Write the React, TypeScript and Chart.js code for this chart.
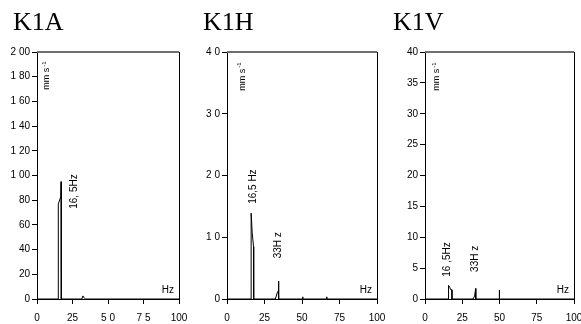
import React, { useEffect, useRef } from 'react';
import { Chart, registerables } from 'chart.js';

Chart.register(...registerables);

// ---------- data ----------
const titles = ['K1A', 'K1H', 'K1V'];

const xTickLabels1 = ['0', '25', '5 0', '7 5', '100'];
const xTickLabels2 = ['0', '25', '50', '75', '100'];
const xTickLabels3 = ['0', '25', '50', '75', '100'];

const yTickLabels1 = ['0', '20', '40', '60', '80', '1 00', '1 20', '1 40', '1 60', '1 80', '2 00'];
const yTickLabels2 = ['0', '1 0', '2 0', '3 0', '4 0'];
const yTickLabels3 = ['0', '5', '10', '15', '20', '25', '30', '35', '40'];

// K1A spectrum (Hz, mm/s)
const k1aHz = [0, 14.9, 15, 16.8, 17, 17.1, 31.6, 32.3, 33.5, 34, 100];
const k1aV = [0, 0, 77, 83, 95, 0, 0, 2.5, 0.5, 0, 0];

// K1H spectrum
const k1hHz = [0, 16.0, 16.1, 16.8, 17.7, 17.8, 32.2, 33.5, 34.2, 34.4, 34.5, 50.3, 50.5, 50.7, 66.3, 66.5, 66.7, 100];
const k1hV = [0, 0, 13.9, 10.7, 8.5, 0, 0, 1.0, 1.3, 2.9, 0, 0, 0.35, 0, 0, 0.35, 0, 0];

// K1V spectrum
const k1vHz = [0, 15.7, 15.8, 16.6, 17.3, 18.0, 18.1, 32.3, 33.3, 34.0, 34.1, 49.8, 49.9, 50.0, 100];
const k1vV = [0, 0, 2.2, 1.9, 1.5, 1.5, 0, 0, 0.5, 1.7, 0, 0, 1.45, 0, 0];

// peak annotations (text, Hz, value)
const k1aNotes = [{ text: '16, 5Hz', x: 26, y: 87 }];
const k1hNotes = [
  { text: '16,5 Hz', x: 17.5, y: 18.2 },
  { text: '33H z', x: 34.1, y: 8.7 },
];
const k1vNotes = [
  { text: '16 ,5Hz', x: 14.8, y: 6.4 },
  { text: '33H z', x: 33.6, y: 6.5 },
];

// unit label anchor (Hz, value)
const k1aUnit = { x: 7, y: 181 };
const k1hUnit = { x: 10.2, y: 36 };
const k1vUnit = { x: 8, y: 36 };

const yMax = [200, 40, 40];
const yStep = [20, 10, 5];

const SANS = "'Liberation Sans', Arial, Helvetica, sans-serif";
const SERIF = "'Liberation Serif', 'Times New Roman', serif";

// ---------- layout ----------
const panelBoxes = [
  { left: 0, width: 190, axisW: 37, padRight: 11, titleX: 13 },
  { left: 190, width: 195, axisW: 37, padRight: 8, titleX: 13 },
  { left: 385, width: 196, axisW: 40, padRight: 7, titleX: 8 },
];

const decorPlugin = {
  id: 'decor',
  afterDraw(chart: any, _args: any, opts: any) {
    const { ctx, chartArea: a, scales } = chart;
    const xs = scales.x;
    const ys = scales.y;
    ctx.save();
    // panel title
    ctx.fillStyle = '#000';
    ctx.font = `26px ${SERIF}`;
    ctx.textAlign = 'left';
    ctx.textBaseline = 'alphabetic';
    ctx.fillText(opts.title, opts.titleX, 29.5);

    // frame: top and right
    ctx.strokeStyle = '#6e6e6e';
    ctx.lineWidth = 2;
    ctx.beginPath();
    ctx.moveTo(a.left, a.top);
    ctx.lineTo(a.right, a.top);
    ctx.stroke();
    ctx.strokeStyle = '#000';
    ctx.lineWidth = 1;
    ctx.beginPath();
    ctx.moveTo(Math.round(a.right) + 0.5, a.top);
    ctx.lineTo(Math.round(a.right) + 0.5, a.bottom);
    ctx.stroke();

    // peak notes (rotated)
    ctx.font = `10px ${SANS}`;
    ctx.textAlign = 'center';
    ctx.textBaseline = 'middle';
    for (const n of opts.notes || []) {
      const px = xs.getPixelForValue(n.x);
      const py = ys.getPixelForValue(n.y);
      ctx.save();
      ctx.translate(px, py);
      ctx.rotate(-Math.PI / 2);
      ctx.fillText(n.text, 0, 0);
      ctx.restore();
    }
    // unit label
    if (opts.unit) {
      const px = xs.getPixelForValue(opts.unit.x);
      const py = ys.getPixelForValue(opts.unit.y);
      ctx.save();
      ctx.translate(px, py);
      ctx.rotate(-Math.PI / 2);
      ctx.textAlign = 'left';
      ctx.font = `9px ${SANS}`;
      const main = 'mm s';
      const w1 = ctx.measureText(main).width;
      ctx.font = `6px ${SANS}`;
      const sup = '-1';
      const w2 = ctx.measureText(sup).width;
      const start = -(w1 + w2 + 1) / 2;
      ctx.font = `9px ${SANS}`;
      ctx.fillText(main, start, 0);
      ctx.font = `6px ${SANS}`;
      ctx.fillText(sup, start + w1 + 1, -3);
      ctx.restore();
    }
    // Hz label
    ctx.font = `10px ${SANS}`;
    ctx.textAlign = 'right';
    ctx.textBaseline = 'middle';
    ctx.fillText('Hz', a.right - 5, a.bottom - 9);
    ctx.restore();
  },
};

function buildConfig(i: number, hz: number[], v: number[], xl: string[], yl: string[], notes: any[], unit: any) {
  const box = panelBoxes[i];
  return {
    type: 'line' as const,
    data: {
      datasets: [
        {
          data: hz.map((x, k) => ({ x, y: v[k] })),
          borderColor: '#000',
          borderWidth: 1,
          pointRadius: 0,
          tension: 0,
          fill: false,
        },
      ],
    },
    options: {
      animation: false,
      responsive: false,
      devicePixelRatio: 1,
      layout: { padding: { left: 0, right: box.padRight, top: 52, bottom: 0 } },
      plugins: {
        legend: { display: false },
        tooltip: { enabled: false },
        title: { display: false },
        decor: { notes, unit, title: titles[i], titleX: box.titleX },
      },
      scales: {
        x: {
          type: 'linear',
          min: 0,
          max: 100,
          border: { display: true, color: '#000', width: 1 },
          grid: { drawOnChartArea: false, drawTicks: true, tickLength: 5, color: '#000' },
          ticks: {
            stepSize: 25,
            autoSkip: false,
            maxRotation: 0,
            padding: 8,
            color: '#000',
            font: { family: SANS, size: 10 },
            callback: (_v: any, idx: number) => xl[idx],
          },
          afterFit: (s: any) => {
            s.height = 25;
            s.paddingLeft = 0;
            s.paddingRight = 0;
          },
        },
        y: {
          type: 'linear',
          min: 0,
          max: yMax[i],
          border: { display: true, color: '#000', width: 1 },
          grid: { drawOnChartArea: false, drawTicks: true, tickLength: 5, color: '#000' },
          ticks: {
            stepSize: yStep[i],
            autoSkip: false,
            padding: 2,
            color: '#000',
            font: { family: SANS, size: 10 },
            callback: (_v: any, idx: number) => yl[idx],
          },
          afterFit: (s: any) => {
            s.width = box.axisW;
            s.paddingTop = 0;
            s.paddingBottom = 0;
          },
        },
      },
    },
    plugins: [decorPlugin],
  };
}

function Panel({ idx, hz, v, xl, yl, notes, unit }: any) {
  const ref = useRef<HTMLCanvasElement | null>(null);
  const box = panelBoxes[idx];
  useEffect(() => {
    if (!ref.current) return;
    const chart = new Chart(ref.current, buildConfig(idx, hz, v, xl, yl, notes, unit) as any);
    return () => chart.destroy();
  }, []);
  return (
    <canvas
      ref={ref}
      width={box.width}
      height={324}
      style={{ position: 'absolute', left: box.left, top: 0, width: box.width, height: 324 }}
    />
  );
}

export default function App() {
  return (
    <div style={{ position: 'absolute', left: 0, top: 0, width: 581, height: 324, background: '#fff', overflow: 'hidden' }}>
      <Panel idx={0} hz={k1aHz} v={k1aV} xl={xTickLabels1} yl={yTickLabels1} notes={k1aNotes} unit={k1aUnit} />
      <Panel idx={1} hz={k1hHz} v={k1hV} xl={xTickLabels2} yl={yTickLabels2} notes={k1hNotes} unit={k1hUnit} />
      <Panel idx={2} hz={k1vHz} v={k1vV} xl={xTickLabels3} yl={yTickLabels3} notes={k1vNotes} unit={k1vUnit} />
    </div>
  );
}
